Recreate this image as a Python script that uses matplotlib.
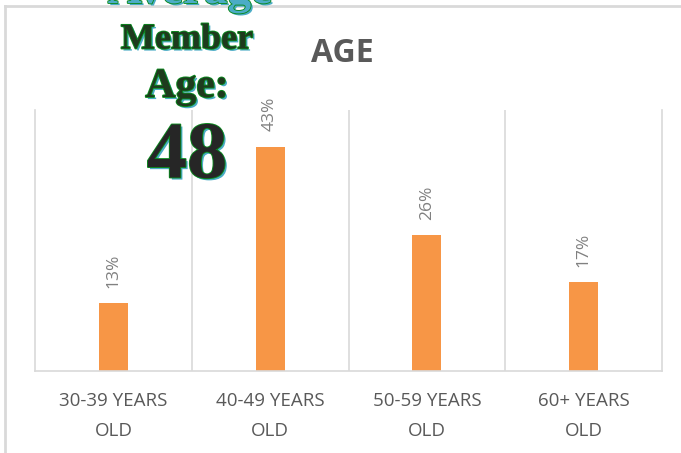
import matplotlib
matplotlib.use("Agg")
import matplotlib.pyplot as plt
import matplotlib.patheffects as pe
from matplotlib.lines import Line2D

categories = ["30-39 YEARS\nOLD", "40-49 YEARS\nOLD", "50-59 YEARS\nOLD", "60+ YEARS\nOLD"]
shares = [0.13, 0.43, 0.26, 0.17]
labels = ["13%", "43%", "26%", "17%"]

W, H = 681, 453
fig = plt.figure(figsize=(W / 100, H / 100), dpi=100)

# outer chart border (only top and left visible)
grey = "#d9d9d9"
fig.add_artist(Line2D([5 / W, 1], [1 - 6 / H, 1 - 6 / H], color=grey, lw=2))
fig.add_artist(Line2D([5 / W, 5 / W], [0, 1 - 6 / H], color=grey, lw=2))

ax = fig.add_axes([35 / W, (H - 371) / H, 627 / W, 261 / H])
x = list(range(len(categories)))
ax.bar(x, shares, width=0.185, color="#F79646", zorder=2)
ax.set_xlim(-0.5, len(categories) - 0.5)
ax.set_ylim(0, 0.5)

for i, (v, t) in enumerate(zip(shares, labels)):
    ax.annotate(t, (i, v), xytext=(0, 11), textcoords="offset points",
                rotation=90, ha="center", va="bottom", fontsize=12.5,
                color="#808080", family="Open Sans")

for b in [0.5, 1.5, 2.5]:
    ax.axvline(b, color=grey, lw=1.2, zorder=1)
ax.spines["top"].set_visible(False)
for s in ["left", "right", "bottom"]:
    ax.spines[s].set_color(grey)
    ax.spines[s].set_linewidth(1.2)
ax.set_yticks([])
ax.set_xticks(x)
ax.set_xticklabels(categories, fontsize=13.5, color="#595959",
                   family="Open Sans", linespacing=1.85)
ax.tick_params(axis="x", length=0, pad=15)

fig.text(342 / W, 1 - 53 / H, "AGE", ha="center", va="center",
         fontsize=23, fontweight="bold", color="#595959", family="Open Sans")

# overlay text box
fx = [pe.withSimplePatchShadow(offset=(1.5, -1.5), shadow_rgbFace="#4bacc6", alpha=1),
      pe.Stroke(linewidth=1.3, foreground="#0b8a1e"), pe.Normal()]
serif = "Liberation Serif"
fig.text(190 / W, 1 - 3 / H, "Average", ha="center", va="baseline", fontsize=34,
         fontweight="bold", color="#4bacc6", family=serif, path_effects=fx)
fig.text(187 / W, 1 - 40 / H, "Member", ha="center", va="center", fontsize=26,
         fontweight="bold", color="#1e3a1e", family=serif, path_effects=fx)
fig.text(187 / W, 1 - 87 / H, "Age:", ha="center", va="center", fontsize=30,
         fontweight="bold", color="#1e3a1e", family=serif, path_effects=fx)
fig.text(187 / W, 1 - 158 / H, "48", ha="center", va="center", fontsize=58,
         fontweight="bold", color="#262626", family=serif, path_effects=fx)

fig.savefig("out.png", dpi=100)
